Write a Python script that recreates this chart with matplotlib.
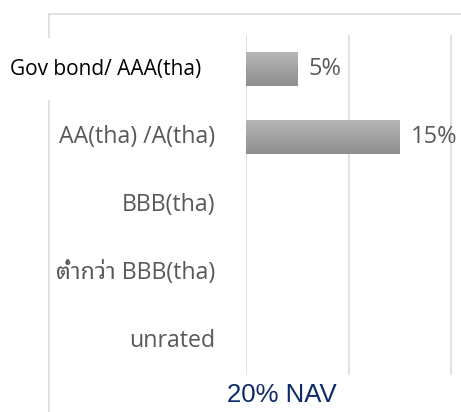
import matplotlib
matplotlib.use("Agg")
import matplotlib.pyplot as plt
import numpy as np
from matplotlib.lines import Line2D
from matplotlib.colors import LinearSegmentedColormap

categories = ["Gov bond/ AAA(tha)", "AA(tha) /A(tha)", "BBB(tha)", "ต่ำกว่า BBB(tha)", "unrated"]
values = [5, 15, None, None, None]
value_labels = ["5%", "15%", "", "", ""]
grid_ticks = [0, 10, 20]
footer = "20% NAV"

W, H = 461, 412
fig = plt.figure(figsize=(W / 100, H / 100), dpi=100)
fig.patch.set_facecolor("white")

def fx(px):
    return px / W

def fy(py):
    return (H - py) / H

# axes: px 246..461 horizontally, 35..375 vertically
ax = fig.add_axes([fx(246), fy(375), fx(461) - fx(246), (375 - 35) / H])
for s in ax.spines.values():
    s.set_visible(False)
ax.set_xticks([])
ax.set_yticks([])
for t in grid_ticks:
    ax.axvline(t, color="#d9d9d9", lw=1.1, zorder=0)

ypos = np.arange(len(categories))
vals = [v if v is not None else 0 for v in values]
bars = ax.barh(ypos, vals, height=0.5, color="none", edgecolor="none", zorder=2)

grad = np.linspace(0, 1, 64).reshape(-1, 1)
cmap = LinearSegmentedColormap.from_list("g", ["#b6b6b6", "#8e8e8e"])
for b, v in zip(bars, values):
    if v is None:
        continue
    x0, y0, w, h = b.get_x(), b.get_y(), b.get_width(), b.get_height()
    im = ax.imshow(grad, cmap=cmap, aspect="auto", extent=(x0, x0 + w, y0 + h, y0),
                   interpolation="bilinear", zorder=2)
    im.set_clip_path(b)
ax.set_xlim(0, 20 * 215 / 205)
ax.set_ylim(len(categories) - 0.5, -0.5)

label_font = ["Open Sans", "Noto Sans Thai Looped"]
for i, (cat, v, vl) in enumerate(zip(categories, values, value_labels)):
    if i == 0:
        ax.annotate(cat, xy=(0, i), xytext=(-45, 0), textcoords="offset pixels",
                    ha="right", va="center", fontsize=15, color="black",
                    family=label_font, annotation_clip=False,
                    bbox=dict(boxstyle="square,pad=1.0", fc="white", ec="none"))
    else:
        ax.annotate(cat, xy=(0, i), xytext=(-31, 0), textcoords="offset pixels",
                    ha="right", va="center", fontsize=16.7, color="#595959",
                    family=label_font, annotation_clip=False)
    if v is not None:
        ax.annotate(vl, xy=(v, i), xytext=(11, 0), textcoords="offset pixels",
                    ha="left", va="center", fontsize=17, color="#595959",
                    family=label_font, annotation_clip=False)

# outer frame
fig.add_artist(Line2D([fx(49), fx(461)], [fy(14), fy(14)], transform=fig.transFigure,
                      color="#d9d9d9", lw=1.1, zorder=-1))
fig.add_artist(Line2D([fx(49), fx(49)], [fy(14), fy(412)], transform=fig.transFigure,
                      color="#d9d9d9", lw=1.1, zorder=-1))

fig.text(fx(227), fy(395), footer, ha="left", va="center", fontsize=18.5,
         color="#0e2a6b", family="Liberation Sans")

fig.savefig("out.png", dpi=100, facecolor="white")
